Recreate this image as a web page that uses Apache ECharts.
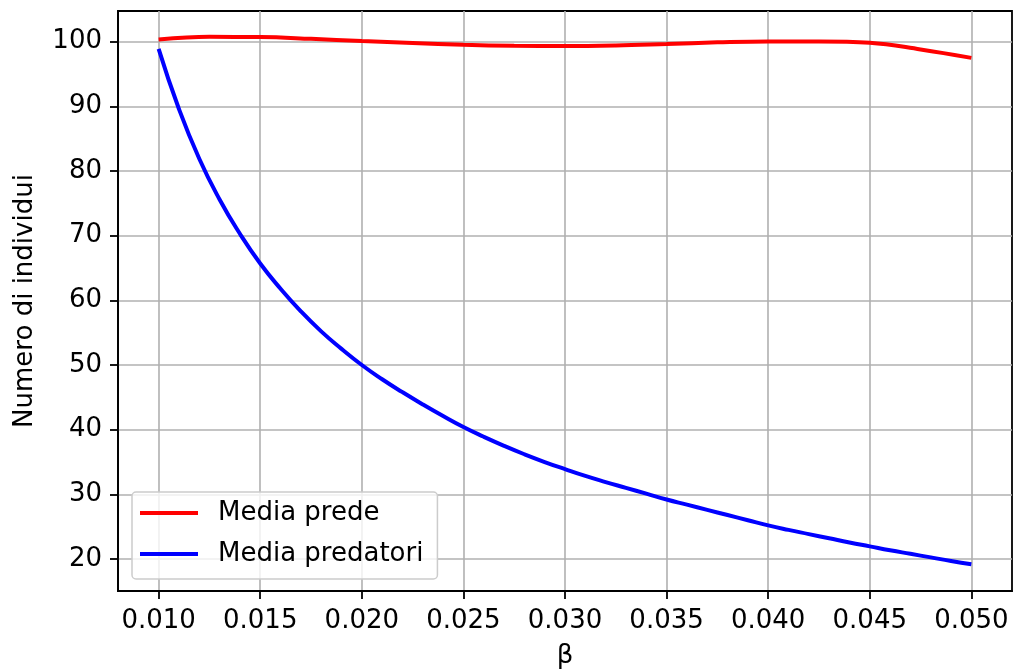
<!DOCTYPE html>
<html>
<head>
<meta charset="utf-8">
<script src="https://cdn.jsdelivr.net/npm/echarts@6/dist/echarts.min.js"></script>
<style>html,body{margin:0;padding:0;background:#fff}#c{width:1013px;height:670px}</style>
</head>
<body>
<div id="c"></div>
<script>
const betaPred = [0.010, 0.011, 0.012, 0.013, 0.014, 0.015, 0.016, 0.017, 0.018, 0.019, 0.020, 0.021, 0.022, 0.023, 0.024, 0.025, 0.026, 0.027, 0.028, 0.029, 0.030, 0.031, 0.032, 0.033, 0.034, 0.035, 0.036, 0.037, 0.038, 0.039, 0.040, 0.041, 0.042, 0.043, 0.044, 0.045, 0.046, 0.047, 0.048, 0.049, 0.050];
const mediaPredatori = [98.9, 89.6, 81.9, 75.6, 70.3, 65.7, 61.8, 58.3, 55.2, 52.5, 50.0, 47.8, 45.8, 43.9, 42.1, 40.4, 38.9, 37.5, 36.2, 35.0, 33.9, 32.85, 31.9, 31.0, 30.1, 29.2, 28.4, 27.6, 26.8, 26.0, 25.2, 24.5, 23.85, 23.2, 22.55, 21.95, 21.35, 20.8, 20.25, 19.7, 19.2];
const betaPrey = [0.010, 0.0125, 0.015, 0.0175, 0.020, 0.0225, 0.025, 0.0275, 0.030, 0.0325, 0.035, 0.0375, 0.040, 0.0425, 0.045, 0.0475, 0.050];
const mediaPrede = [100.35, 100.75, 100.72, 100.45, 100.1, 99.8, 99.53, 99.37, 99.32, 99.42, 99.65, 99.9, 100.05, 100.05, 99.85, 98.8, 97.5];
const xTicks = [0.010, 0.015, 0.020, 0.025, 0.030, 0.035, 0.040, 0.045, 0.050];
const yTicks = [20, 30, 40, 50, 60, 70, 80, 90, 100];
const seriesNames = ['Media prede', 'Media predatori'];

const FONT = 'DejaVu Sans';
const FS = 26;
const chart = echarts.init(document.getElementById('c'), null, {renderer: 'canvas'});
const pairs = (xs, ys) => xs.map((x, i) => [x, ys[i]]);
chart.setOption({
  animation: false,
  backgroundColor: '#ffffff',
  grid: {left: 118, right: 1, top: 11, bottom: 79, containLabel: false, outerBoundsMode: 'none',
         show: true, borderColor: '#000', borderWidth: 1.8, backgroundColor: 'transparent'},
  xAxis: {
    type: 'value', min: 0.008, max: 0.052,
    name: 'β', nameLocation: 'middle', nameGap: 52,
    nameTextStyle: {fontFamily: FONT, fontSize: FS, color: '#000'},
    axisLine: {show: true, onZero: false, lineStyle: {color: '#000', width: 1.8}},
    axisTick: {show: true, length: 8, lineStyle: {color: '#000', width: 1.8}, customValues: xTicks},
    axisLabel: {fontFamily: FONT, fontSize: FS, color: '#000', margin: 17, customValues: xTicks, formatter: v => v.toFixed(3)},
    splitLine: {show: true, lineStyle: {color: '#b0b0b0', width: 1.6}}
  },
  yAxis: {
    type: 'value', min: 15.05, max: 104.75,
    name: 'Numero di individui', nameLocation: 'middle', nameGap: 80,
    nameTextStyle: {fontFamily: FONT, fontSize: FS, color: '#000'},
    axisLine: {show: true, onZero: false, lineStyle: {color: '#000', width: 1.8}},
    axisTick: {show: true, length: 8, lineStyle: {color: '#000', width: 1.8}, customValues: yTicks},
    axisLabel: {fontFamily: FONT, fontSize: FS, color: '#000', margin: 16, customValues: yTicks, formatter: v => String(v)},
    splitLine: {show: true, lineStyle: {color: '#b0b0b0', width: 1.6}}
  },
  legend: {
    left: 132, top: 492, orient: 'vertical',
    data: seriesNames.map(n => ({name: n, icon: 'rect'})),
    itemWidth: 58, itemHeight: 4, itemGap: 11,
    padding: [6, 14, 10, 8],
    borderColor: '#cccccc', borderWidth: 1.5, borderRadius: 4,
    backgroundColor: 'rgba(255,255,255,0.8)',
    textStyle: {fontFamily: FONT, fontSize: FS, color: '#000', lineHeight: 30, padding: [0, 0, 0, 15]}
  },
  series: [
    {name: seriesNames[0], type: 'line', data: pairs(betaPrey, mediaPrede), smooth: 0.4, symbol: 'none', showSymbol: false,
     lineStyle: {color: '#ff0000', width: 4}, itemStyle: {color: '#ff0000'}},
    {name: seriesNames[1], type: 'line', data: pairs(betaPred, mediaPredatori), smooth: 0.5, symbol: 'none', showSymbol: false,
     lineStyle: {color: '#0000ff', width: 4}, itemStyle: {color: '#0000ff'}}
  ]
});
</script>
</body>
</html>
